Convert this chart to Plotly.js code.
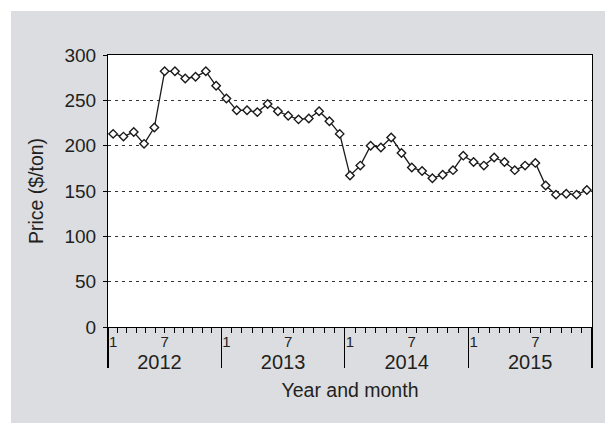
<!DOCTYPE html>
<html><head><meta charset="utf-8">
<script src="https://cdn.plot.ly/plotly-3.0.1.min.js"></script>
<style>
html,body{margin:0;padding:0;background:#fff;width:605px;height:423px;overflow:hidden}
#chart{position:absolute;left:11px;top:11px;width:594px;height:412px}
</style>
</head><body><div id="chart"></div>
<script>
// Monthly price series ($/ton), 47 observations
const prices = [213, 210, 215, 202, 220, 282, 282, 274, 276, 282, 266, 252,
  239, 239, 237, 246, 238, 233, 229, 230, 238, 227, 213, 167,
  178, 200, 198, 209, 192, 176, 172, 164, 168, 173, 189, 182,
  178, 187, 182, 173, 178, 181, 156, 146, 147, 146, 151];
const yTicks = [0, 50, 100, 150, 200, 250, 300];
const monthLabels = ['1', '7', '1', '7', '1', '7', '1', '7'];
const monthLabelPos = [0, 5, 11, 17, 23, 29, 35, 41];
const years = ['2012', '2013', '2014', '2015'];
const yearLabelPos = [4.5, 16.5, 28.5, 40.5];
const yearBoundaryPos = [-0.5, 10.5, 22.5, 34.5, 46.5];

const xIdx = prices.map((_, i) => i);
const monthTickPos = [];
for (let y = 0; y < yearBoundaryPos.length - 1; y++) {
  const a = yearBoundaryPos[y], b = yearBoundaryPos[y + 1];
  for (let k = 1; k < 12; k++) monthTickPos.push(a + k * (b - a) / 12);
}

const FONT = "'Liberation Sans', Arial, sans-serif";
const TXT = '#231f20';
const XR = [-0.5, 46.5];

const traces = [
  {x: xIdx, y: prices, type: 'scatter', mode: 'lines+markers',
   line: {color: '#1a1a1a', width: 1.3},
   marker: {symbol: 'diamond', size: 6.5, color: '#ffffff', line: {color: '#1a1a1a', width: 1.4}},
   hoverinfo: 'x+y', showlegend: false},
  {x: [], y: [], xaxis: 'x2', showlegend: false, hoverinfo: 'skip'},
  {x: [], y: [], xaxis: 'x3', showlegend: false, hoverinfo: 'skip'},
  {x: [], y: [], xaxis: 'x4', showlegend: false, hoverinfo: 'skip'}
];

const baseOverlay = {overlaying: 'x', anchor: 'y', side: 'bottom', range: XR,
  showgrid: false, zeroline: false, showline: false, fixedrange: true};

const layout = {
  width: 594, height: 412,
  margin: {l: 97, r: 13, t: 44, b: 96},
  paper_bgcolor: '#dcdde0', plot_bgcolor: '#ffffff',
  font: {family: FONT, color: TXT, size: 19},
  xaxis: {range: XR, tickmode: 'array', tickvals: monthLabelPos, ticktext: monthLabels,
    ticks: '', ticklabelstandoff: 1, tickfont: {size: 15, family: FONT, color: TXT},
    showline: true, linecolor: '#000', linewidth: 1, mirror: true,
    showgrid: false, zeroline: false,
    title: {text: 'Year and month', font: {size: 19.5, family: FONT, color: TXT}, standoff: 34}},
  xaxis2: Object.assign({}, baseOverlay, {tickmode: 'array', tickvals: monthTickPos,
    ticks: 'outside', ticklen: 5, tickwidth: 1, tickcolor: '#000', showticklabels: false}),
  xaxis3: Object.assign({}, baseOverlay, {tickmode: 'array', tickvals: yearBoundaryPos,
    ticks: 'outside', ticklen: 40, tickwidth: 1.2, tickcolor: '#000', showticklabels: false}),
  xaxis4: Object.assign({}, baseOverlay, {tickmode: 'array', tickvals: yearLabelPos, ticktext: years,
    ticks: '', ticklabelstandoff: 21, tickfont: {size: 20, family: FONT, color: TXT}}),
  yaxis: {range: [0, 300], tickmode: 'array', tickvals: yTicks,
    ticks: 'outside', ticklen: 4, tickcolor: '#000', ticklabelstandoff: 3,
    tickfont: {size: 19, family: FONT, color: TXT},
    showline: true, linecolor: '#000', linewidth: 1, mirror: true,
    showgrid: true, gridcolor: '#333', gridwidth: 1, griddash: '3px,4px', zeroline: false,
    title: {text: 'Price ($/ton)', font: {size: 19.5, family: FONT, color: TXT}, standoff: 15}}
};

Plotly.newPlot('chart', traces, layout, {displayModeBar: false, staticPlot: true});
</script>
</body></html>
